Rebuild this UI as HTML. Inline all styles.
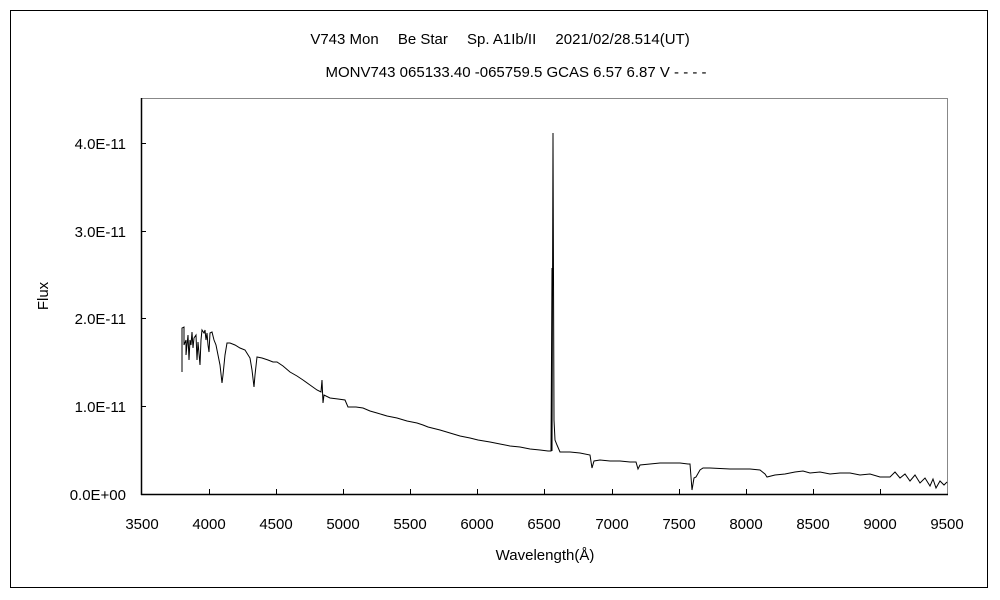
<!DOCTYPE html>
<html><head><meta charset="utf-8"><style>
body{margin:0;background:#fff;}
svg{display:block;font-family:"Liberation Sans","Noto Sans CJK JP",sans-serif;}
</style></head><body>
<svg width="1000" height="600" viewBox="0 0 1000 600">
<rect x="0" y="0" width="1000" height="600" fill="#fff"/>
<rect x="10.5" y="10.5" width="977" height="577" fill="none" stroke="#000" stroke-width="1"/>
<text x="500" y="44" font-size="15" text-anchor="middle">V743 Mon　 Be Star　 Sp. A1Ib/II　 2021/02/28.514(UT)</text>
<text x="516" y="77" font-size="15" text-anchor="middle">MONV743 065133.40 -065759.5 GCAS 6.57 6.87 V - - - -</text>
<rect x="141.5" y="98.5" width="806" height="396" fill="none" stroke="#888" stroke-width="1"/>
<line x1="141.5" y1="98" x2="141.5" y2="495" stroke="#000" stroke-width="1.5"/>
<line x1="141" y1="494.5" x2="948" y2="494.5" stroke="#000" stroke-width="1.5"/>
<g stroke="#000" stroke-width="1">
<line x1="141" y1="143.5" x2="146" y2="143.5"/><line x1="141" y1="231.5" x2="146" y2="231.5"/>
<line x1="141" y1="318.5" x2="146" y2="318.5"/><line x1="141" y1="406.5" x2="146" y2="406.5"/>
<line x1="209.5" y1="494" x2="209.5" y2="489"/><line x1="276.5" y1="494" x2="276.5" y2="489"/>
<line x1="343.5" y1="494" x2="343.5" y2="489"/><line x1="410.5" y1="494" x2="410.5" y2="489"/>
<line x1="477.5" y1="494" x2="477.5" y2="489"/><line x1="544.5" y1="494" x2="544.5" y2="489"/>
<line x1="612.5" y1="494" x2="612.5" y2="489"/><line x1="679.5" y1="494" x2="679.5" y2="489"/>
<line x1="746.5" y1="494" x2="746.5" y2="489"/><line x1="813.5" y1="494" x2="813.5" y2="489"/>
<line x1="880.5" y1="494" x2="880.5" y2="489"/>
</g>
<g font-size="15" text-anchor="end">
<text x="126" y="149">4.0E-11</text><text x="126" y="237">3.0E-11</text>
<text x="126" y="324">2.0E-11</text><text x="126" y="412">1.0E-11</text>
<text x="126" y="500">0.0E+00</text>
</g>
<g font-size="15" text-anchor="middle">
<text x="142" y="529">3500</text><text x="209" y="529">4000</text><text x="276" y="529">4500</text>
<text x="343" y="529">5000</text><text x="410" y="529">5500</text><text x="477" y="529">6000</text>
<text x="544" y="529">6500</text><text x="612" y="529">7000</text><text x="679" y="529">7500</text>
<text x="746" y="529">8000</text><text x="813" y="529">8500</text><text x="880" y="529">9000</text>
<text x="947" y="529">9500</text>
<text x="545" y="560">Wavelength(Å)</text>
<text transform="translate(48,296) rotate(-90)">Flux</text>
</g>
<polyline fill="none" stroke="#000" stroke-width="1" points="
182,372 182,328 184,327 184,345 186,340 186,355 187,345 188,335 189,360 190,340 191,345 192,332 193,348 194,338 196,335 197,360 198,342 200,365 201,340 202,330 204,333 205,330 206,340 207,333 208,345 209,352 210,333 212,332 214,340 216,345 218,355 220,365 222,383 223,375 225,355 227,343 230,343 235,345 240,348 245,350 250,358 252,370 254,387 255,375 257,357 262,358 268,360 273,362 277,362 283,366 290,372 297,376 303,380 310,385 317,390 321,392 322,380 323,403 324,395 330,398 338,399 345,400 348,407 356,407 363,408 370,411 377,413 387,416 397,418 407,421 417,423 423,425 428,427 440,430 450,433 460,436 470,438 478,440 490,442 500,444 510,446 520,447 530,449 540,450 548,451 551,451 552,268 552,451 553,133 554,420 555,440 557,445 560,452 570,452 580,453 590,455 592,468 594,461 600,460 610,461 620,461 630,462 636,462 638,469 640,465 650,464 660,463 670,463 680,463 688,464 690,464 692,490 694,478 696,477 700,470 703,468 710,468 730,469 750,469 760,470 765,474 767,477 775,475 785,474 795,472 803,471 810,473 820,472 830,474 840,473 850,473 860,475 870,474 880,477 890,477 895,472 900,478 905,474 910,481 915,475 920,483 925,478 930,486 933,479 936,488 940,481 944,485 947,482"/>
</svg>
</body></html>
